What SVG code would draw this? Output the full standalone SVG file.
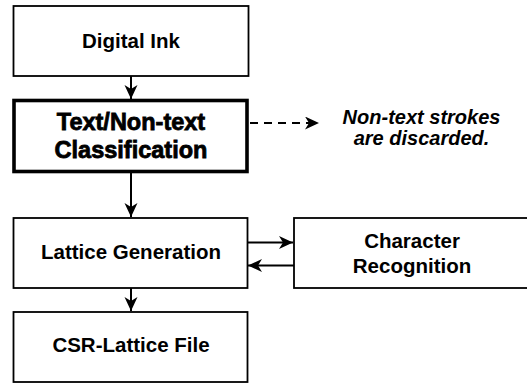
<svg xmlns="http://www.w3.org/2000/svg" width="527" height="383" viewBox="0 0 527 383">
  <defs>
    <marker id="arr" markerUnits="userSpaceOnUse" markerWidth="16" markerHeight="14" refX="14" refY="6.5" orient="auto">
      <path d="M0,0 L14,6.5 L0,13 L4,6.5 z" fill="#000"/>
    </marker>
    <style>
      .box { fill: #fff; stroke: #000; stroke-width: 1.8; }
      .thick { fill: #fff; stroke: #000; stroke-width: 3.6; }
      .lbl { font-family: "Liberation Sans", Arial, sans-serif; font-weight: bold; font-size: 20.5px; fill: #000; text-anchor: middle; }
      .big { font-size: 23.5px; stroke: #000; stroke-width: 0.8; }
      .note { font-family: "Liberation Sans", Arial, sans-serif; font-weight: bold; font-style: italic; font-size: 20px; fill: #000; text-anchor: middle; }
      .con { fill: none; stroke: #000; stroke-width: 2; marker-end: url(#arr); }
      .dash { stroke-dasharray: 8 6; }
    </style>
  </defs>

  <g id="connectors">
    <line class="con" x1="131" y1="76" x2="131" y2="99"/>
    <line class="con dash" x1="250" y1="123" x2="319" y2="123"/>
    <line class="con" x1="131" y1="172" x2="131" y2="217"/>
    <line class="con" x1="247" y1="242.5" x2="293" y2="242.5"/>
    <line class="con" x1="294" y1="265.5" x2="248" y2="265.5"/>
    <line class="con" x1="131" y1="288" x2="131" y2="311"/>
  </g>

  <g id="digital-ink">
    <rect class="box" x="13.5" y="6" width="235" height="70"/>
    <text class="lbl" x="131" y="48">Digital Ink</text>
  </g>

  <g id="classification">
    <rect class="thick" x="14" y="100.5" width="233" height="71"/>
    <text class="lbl big" x="131" y="130">Text/Non-text</text>
    <text class="lbl big" x="131" y="158">Classification</text>
  </g>

  <g id="note">
    <text class="note" x="421.5" y="124">Non-text strokes</text>
    <text class="note" x="421.5" y="145">are discarded.</text>
  </g>

  <g id="lattice-generation">
    <rect class="box" x="13.5" y="218" width="234" height="70"/>
    <text class="lbl" x="131" y="259">Lattice Generation</text>
  </g>

  <g id="character-recognition">
    <rect class="box" x="294" y="218" width="240" height="70"/>
    <text class="lbl" x="412" y="248">Character</text>
    <text class="lbl" x="412" y="273">Recognition</text>
  </g>

  <g id="csr-lattice-file">
    <rect class="box" x="13.5" y="312" width="234" height="70"/>
    <text class="lbl" x="131" y="352">CSR-Lattice File</text>
  </g>
</svg>
